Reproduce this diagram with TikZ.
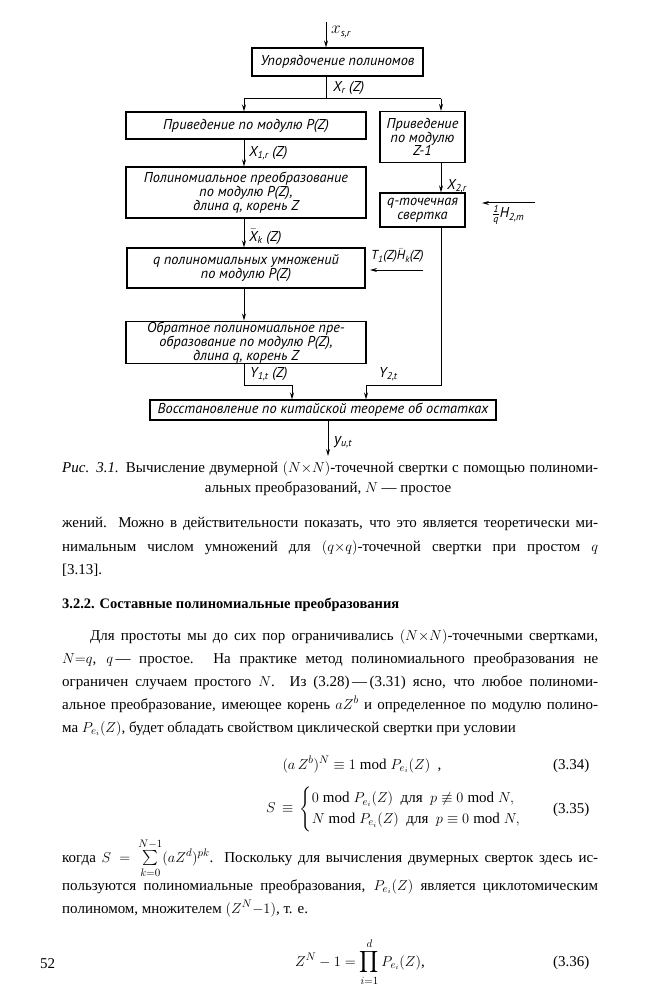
\documentclass[tikz,border=0pt]{standalone}
\usepackage{amsmath,amssymb}
\usepackage{fontspec}
\setmainfont{Liberation Serif}
\newfontfamily\dg{PT Sans}
\usetikzlibrary{arrows.meta}
\newcommand{\sbs}[1]{\textsubscript{#1}}
\newcommand{\dgf}{\dg\itshape\fontsize{14.3}{13.8}\selectfont}
\newcommand{\fl}[1]{\makebox[536pt][s]{#1}}
\tikzset{
  box/.style={draw, line width=1.1pt, inner sep=1pt, align=center, font=\dgf},
  lbl/.style={font=\dgf, inner sep=0pt, anchor=west},
  arr/.style={line width=1pt, -{Stealth[length=7pt,width=4pt]}},
  ln/.style={line width=1pt},
  txt/.style={inner sep=0pt, anchor=base west, font=\fontsize{15}{17}\selectfont},
  eq/.style={inner sep=0pt, anchor=base, font=\fontsize{15}{17}\selectfont}
}
\begin{document}
\begin{tikzpicture}[x=1pt,y=-1pt]
\fill[white] (0,0) rectangle (648,1000);
\path[use as bounding box] (0,0) rectangle (648,1000);

% boxes
\node[box, minimum width=171pt, minimum height=28pt] (b1) at (337.5,62) {Упорядочение полиномов};
\node[box, minimum width=240pt, minimum height=27pt] (b2) at (246,125.5) {Приведение по модулю P(Z)};
\node[box, minimum width=85pt, minimum height=51pt] (r1) at (422.5,137) {Приведение\\по модулю\\Z-1};
\node[box, minimum width=240pt, minimum height=51pt] (b3) at (246,192.5) {Полиномиальное преобразование\\по модулю P(Z),\\длина q, корень Z};
\node[box, minimum width=85pt, minimum height=34pt] (r2) at (422.5,210) {q-точечная\\свертка};
\node[box, minimum width=238pt, minimum height=40pt] (b4) at (246,268) {q полиномиальных умножений\\по модулю P(Z)};
\node[box, minimum width=240pt, minimum height=41pt] (b5) at (246,342.5) {Обратное полиномиальное пре-\\образование по модулю P(Z),\\длина q, корень Z};
\node[box, minimum width=346pt, minimum height=20pt] (b6) at (323,410) {Восстановление по китайской теореме об остатках};

% coordinates
\coordinate (in) at (326,22);
\coordinate (br) at (326,99);
\coordinate (brL) at (244,99);
\coordinate (brR) at (441,99);
\coordinate (cL) at (244,385);
\coordinate (cL2) at (292,385);
\coordinate (cR) at (441,385);
\coordinate (cR2) at (366,385);
\coordinate (out) at (328,456);
\coordinate (h0) at (535,203);
\coordinate (h1) at (482,203);
\coordinate (t0) at (423,270);
\coordinate (t1) at (370,270);

% connectors
\draw[arr] (in) -- (in |- b1.north);
\draw[ln] (b1.south -| br) -- (br);
\draw[ln] (brL) -- (brR);
\draw[arr] (brL) -- (brL |- b2.north);
\draw[arr] (brR) -- (brR |- r1.north);
\draw[arr] (b2.south -| brL) -- (b3.north -| brL);
\draw[arr] (b3.south -| brL) -- (b4.north -| brL);
\draw[arr] (b4.south -| brL) -- (b5.north -| brL);
\draw[arr] (r1.south -| brR) -- (r2.north -| brR);
\draw[arr] (b5.south -| cL) -- (cL) -- (cL2) -- (cL2 |- b6.north);
\draw[arr] (r2.south -| cR) -- (cR) -- (cR2) -- (cR2 |- b6.north);
\draw[arr] (b6.south -| out) -- (out);
\draw[arr] (h0) -- (h1);
\draw[arr] (t0) -- (t1);

% labels
\node[lbl] (lx) at (331,32) {{\fontsize{17}{17}\selectfont$x$}\sbs{s,r}};
\node[lbl] (lX) at (333,88) {X\sbs{r} (Z)};
\node[lbl] (lX1) at (249,153) {X\sbs{1,r} (Z)};
\node[lbl] (lXk) at (249,237) {$\bar{\text{X}}$\sbs{k} (Z)};
\node[lbl] (lX2) at (447,186) {X\sbs{2,r}};
\node[lbl] (lH) at (492,215) {$\frac{\text{1}}{\text{q}}$H\sbs{2,m}};
\node[lbl, font=\dg\itshape\fontsize{13}{13}\selectfont] (lT) at (371,256) {T\sbs{1}(Z)$\bar{\text{H}}$\sbs{k}(Z)};
\node[lbl] (lY1) at (250,374) {Y\sbs{1,t} (Z)};
\node[lbl] (lY2) at (379,374) {Y\sbs{2,t}};
\node[lbl] (ly) at (334,442) {{\fontsize{16}{16}\selectfont y}\sbs{u,t}};

% caption
\node[txt] (c1) at (62,472) {\fl{\textit{Рис. 3.1.} Вычисление двумерной $(N{\times}N)$-точечной свертки с помощью полиноми-}};
\node[eq] (c2) at (328,492) {альных преобразований, $N$ — простое};

% paragraph 1
\node[txt] (p1) at (62,527) {\fl{жений. Можно в действительности показать, что это является теоретически ми-}};
\node[txt] (p2) at (62,551) {\fl{нимальным числом умножений для $(q{\times}q)$-точечной свертки при простом $q$}};
\node[txt] (p3) at (62,574) {[3.13].};

% heading
\node[txt, font=\fontsize{14.5}{17}\selectfont] (hd) at (62,608) {\textbf{3.2.2. Составные полиномиальные преобразования}};

% paragraph 2
\node[txt] (q1) at (90,640) {\makebox[508pt][s]{Для простоты мы до сих пор ограничивались $(N{\times}N)$-точечными свертками,}};
\node[txt] (q2) at (62,663) {\fl{$N{=}q$, $q$\,— простое. На практике метод полиномиального преобразования не}};
\node[txt] (q3) at (62,686) {\fl{ограничен случаем простого $N$. Из (3.28)\,—\,(3.31) ясно, что любое полиноми-}};
\node[txt] (q4) at (62,709) {\fl{альное преобразование, имеющее корень $aZ^b$ и определенное по модулю полино-}};
\node[txt] (q5) at (62,732) {ма $P_{e_i}(Z)$, будет обладать свойством циклической свертки при условии};

% equations
\node[eq] (e34) at (362,769) {$(a\,Z^b)^N \equiv 1 \bmod P_{e_i}(Z)$\ \ ,};
\node[txt] (n34) at (553,769) {(3.34)};
\node[inner sep=0pt, anchor=west, font=\fontsize{15}{17}\selectfont] (e35) at (266,809) {$S \,\equiv\, \begin{cases} 0 \bmod P_{e_i}(Z)\ \ \text{для}\ \ p \not\equiv 0 \bmod N, \\ N \bmod P_{e_i}(Z)\ \ \text{для}\ \ p \equiv 0 \bmod N, \end{cases}$};
\node[txt] (n35) at (553,813) {(3.35)};

% paragraph 3
\node[txt] (s1) at (62,862) {\fl{когда $S = \sum\limits_{k=0}^{N-1} (aZ^d)^{pk}$. Поскольку для вычисления двумерных сверток здесь ис-}};
\node[txt] (s2) at (62,890) {\fl{пользуются полиномиальные преобразования, $P_{e_i}(Z)$ является циклотомическим}};
\node[txt] (s3) at (62,913) {полиномом, множителем $(Z^N{-}1)$, т. е.};

\node[eq] (e36) at (360,966) {$\displaystyle Z^N - 1 = \prod_{i=1}^{d} P_{e_i}(Z)$,};
\node[txt] (n36) at (553,966) {(3.36)};
\node[txt] (pg) at (40,968) {52};
\end{tikzpicture}
\end{document}
